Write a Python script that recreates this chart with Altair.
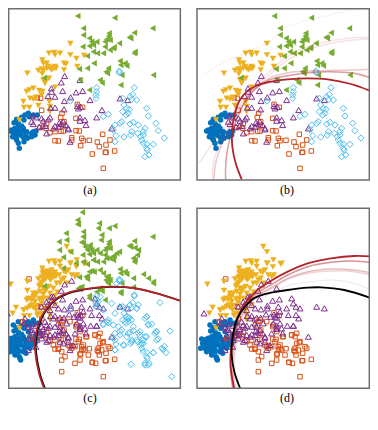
import altair as alt
import pandas as pd

blue_x = [85,75,65,50,42,55,72,35,30,45,55,65,70,40,50,38,48,60,70,78,82,95,100,108,95,105,55,72,58,60,45,80,55,65,112,100,88,50]
blue_y = [340,345,352,358,368,370,360,390,393,385,380,378,385,398,405,410,415,405,412,405,415,400,395,393,410,405,430,425,445,400,395,395,392,395,345,345,350,420]
orange_x = [125,112,122,186,182,228,248,232,140,120,138,165,175,192,190,150,165,183,190,228,238,215,215,245,250,268,242,292,298,318,330,308,277,316,318,344,310]
orange_y = [331,293,295,340,352,355,322,313,370,383,385,422,423,365,375,398,395,394,393,392,393,413,420,415,422,421,437,426,440,435,420,403,462,457,457,453,505]
gold_x = [211,147,162,165,180,211,229,252,127,130,140,125,115,145,150,165,168,192,198,192,232,82,127,130,147,135,135,100,88,80,118,127,125,90,100,108,70,72,88,148,150,150,58,115,165,162,155,140,130]
gold_y = [131,160,158,165,160,165,176,167,180,190,190,207,212,200,205,200,205,190,192,210,200,220,222,240,235,245,250,265,270,275,272,275,285,295,298,292,305,323,323,305,320,335,360,317,262,205,210,205,212]
purple_x = [194,184,154,155,144,188,165,228,248,212,270,193,240,242,232,235,152,165,192,306,360,383,98,108,95,100,125,130,150,145,128,118,136,140,160,165,178,183,190,198,205,205,240,240,255,258,290,335,210,175]
purple_y = [228,247,265,275,288,273,290,277,273,292,300,303,240,320,318,325,323,323,328,330,295,300,347,352,365,372,355,362,352,358,378,380,378,400,385,378,368,372,365,375,385,388,352,362,360,375,352,385,425,380]
green_x = [247,233,344,458,403,327,250,250,326,388,392,268,275,290,320,330,315,280,268,248,315,358,342,340,330,405,403,280,292,262,310,360,375,380,362,282,262,238,325,318,322,365,460,300,306,133,240,362,268]
green_y = [12,48,53,85,98,100,85,105,108,112,115,115,125,125,118,120,125,135,138,140,140,130,142,145,150,155,160,155,160,168,160,183,190,197,195,190,205,207,205,215,220,225,225,240,248,233,240,255,270]
sky_x = [358,358,290,290,288,288,211,403,398,390,395,410,368,372,380,388,385,378,368,440,445,325,310,468,475,493,360,345,340,365,390,400,415,435,430,422,425,430,440,460,440,435,447,442,372,395,392,348,345,413,430]
sky_y = [213,218,263,275,285,295,303,263,283,290,298,300,295,315,325,328,340,345,335,325,348,343,349,370,392,414,370,375,390,365,372,367,375,385,395,410,420,430,432,433,445,470,465,450,411,395,405,407,425,400,405]

# Further points of the larger set shown in (c) and (d), same units.
blue2_x = [15,20,25,20,12,35,40,30,45,60,62,55,70,78,85,90,60,28,18,100,118,85,90,108,120,40,55,75,45,50]
blue2_y = [392,410,420,395,420,415,425,430,435,450,455,425,430,435,410,420,410,405,405,335,345,370,385,380,375,350,340,355,440,395]
orange2_x = [87,68,175,190,210,230,240,260,285,300,285,295,258,235,250,225,255,265,245,240,300,310,325,295,305,295,225,240,185,195,160,175,185,205,210,185,277,287,90]
orange2_y = [212,340,335,335,340,350,370,385,380,375,380,385,385,400,410,415,425,440,425,437,405,400,415,420,425,430,465,455,455,445,410,420,430,410,415,490,462,465,390]
gold2_x = [32,48,38,72,82,85,200,212,205,178,180,155,150,140,118,125,110,105,120,95,82,108,130,160,180,200,152,215,230,255,225,135,122,112,172,140,155,165,135,145,150,155,140,148,160,165,130,135,128,120,100,95,105,125,140,150,170,185]
gold2_y = [228,298,315,305,247,272,115,165,185,200,175,185,195,208,235,225,255,280,250,290,300,305,258,240,225,225,215,200,155,165,205,300,315,322,252,270,275,290,190,195,190,200,200,210,205,192,205,215,195,230,255,275,265,270,240,255,225,215]
purple2_x = [22,75,72,85,108,85,215,160,125,140,175,180,208,212,245,250,240,222,200,275,298,272,290,240,225,205,220,190,180,150,140,135,120,105,110,160,175,150,290,298,310,250,230,285,125,145,165,180,90,85]
purple2_y = [315,330,345,390,415,425,217,265,295,280,300,328,318,300,295,310,328,325,345,320,320,352,352,360,375,400,410,405,400,380,350,340,370,385,395,330,345,305,285,295,300,345,345,270,390,395,355,355,365,355]
green2_x = [233,235,298,295,327,198,250,250,305,303,177,200,178,212,190,245,255,262,270,405,415,412,400,228,250,190,268,275,258,262,300,310,320,330,325,400,430,445,460,400,245,235,268,290,302,315,362,350,340,300,320,280]
green2_y = [35,47,45,60,60,75,70,85,80,95,100,95,125,130,147,102,115,125,110,118,125,140,150,165,160,180,190,188,205,212,185,195,205,215,225,210,198,210,220,237,235,240,262,250,245,275,250,135,155,135,150,155]
sky2_x = [480,510,515,393,435,445,490,498,485,460,470,455,445,465,470,335,345,325,310,310,320,340,355,380,385,395,375,400,385,380,360,345,345,370,395,410,420,425,440,435,440,420,360,350,300,295,290,403,360,380,410,415]
sky2_y = [283,368,505,468,465,470,423,433,420,433,370,347,350,375,395,285,315,335,305,347,340,350,355,325,330,335,340,355,375,385,380,395,425,410,400,395,380,405,385,330,325,370,215,225,265,280,295,260,295,300,300,290]

# Boundaries (b), (c), (d), same panel units.
b1_x = [135,117,107,106,112,127,147,177,217,273,333,393,463,540]
b1_y = [538,490,440,400,350,305,278,258,246,238,235,238,252,280]
b2_x = [87,87,94,112,142,172,217,273,333,403,473,540]
b2_y = [538,500,440,380,310,270,240,227,218,215,220,240]
b3_x = [52,57,77,107,142,177,217,273,333,403,473,540]
b3_y = [538,490,430,370,310,265,235,218,213,211,210,207]
b4_x = [7,37,77,107,147,177,217,273,333,403,473,540]
b4_y = [490,445,390,345,290,260,225,180,150,130,120,115]
b5_x = [47,52,77,107,147,177,217,273,333,403,473,540]
b5_y = [538,480,420,360,295,258,215,170,140,122,113,112]
b6_x = [25,77,217,273,400,540]
b6_y = [220,190,125,80,45,12]

c1_x = [135,120,108,108,121,143,172,216,270,330,400,470,540]
c1_y = [539,495,425,395,340,300,272,252,241,236,239,255,277]
c2_x = [132,117,105,105,118,140,170,215,270,330,400,470,540]
c2_y = [539,495,425,395,340,300,270,250,240,235,239,255,277]

d1_x = [130,113,105,108,122,145,172,202,242,273,333,373,443,540]
d1_y = [539,490,440,385,330,295,270,258,250,245,238,237,245,275]
d2_x = [112,102,102,117,142,177,217,273,333,403,473,540]
d2_y = [539,475,435,345,290,250,221,190,165,150,143,145]
d3_x = [108,101,104,120,145,180,220,273,333,403,473,540]
d3_y = [539,475,435,345,293,255,231,200,175,162,158,165]
d4_x = [112,106,109,125,148,183,223,273,333,403,473,540]
d4_y = [539,480,435,345,297,260,238,210,190,182,185,198]
d5_x = [116,110,113,128,151,185,225,273,333,403,473,540]
d5_y = [539,480,435,345,299,263,241,213,195,188,190,205]
d6_x = [122,114,117,133,158,195,235,273,333,403,473,540]
d6_y = [539,480,435,350,305,271,249,232,222,215,225,255]

# panel origins and captions, 1/3 px of the page
panel_x = [2, 592, 2, 592]
panel_y = [0, 0, 625, 625]
captions = ["(a)", "(b)", "(c)", "(d)"]
caption_x = [270, 861, 270, 861]
caption_y = [571, 571, 1193, 1193]
frame_x = [26, 591, 26, 591]
frame_x2 = [541, 1108, 541, 1108]
frame_y = [26, 26, 625, 625]
frame_y2 = [540, 540, 1165, 1165]

X = alt.Scale(domain=[0, 1110])
Y = alt.Scale(domain=[1266, 0])
DARK = "#b2242c"

def pts(xs, ys, dx, dy, shape, color, filled, size):
    df = pd.DataFrame({"x": [v + dx - 2 for v in xs], "y": [v + dy for v in ys]})
    return alt.Chart(df).mark_point(shape=shape, filled=filled, size=size, color=color,
                                    opacity=1, strokeWidth=1).encode(
        x=alt.X("x:Q", scale=X, axis=None), y=alt.Y("y:Q", scale=Y, axis=None))

def curve(xs, ys, dx, dy, color, opacity, width):
    df = pd.DataFrame({"x": [v + dx - 2 for v in xs], "y": [v + dy for v in ys], "o": list(range(len(xs)))})
    return alt.Chart(df).mark_line(color=color, opacity=opacity, strokeWidth=width,
                                   interpolate="catmull-rom").encode(
        x=alt.X("x:Q", scale=X, axis=None), y=alt.Y("y:Q", scale=Y, axis=None), order="o:Q")

def scatter(big, six, dx, dy):
    def j(a, b):
        return a + b if big else a
    L = [pts(j(blue_x, blue2_x), j(blue_y, blue2_y), dx, dy, "circle", "#0072BD", True, 30),
         pts(j(orange_x, orange2_x), j(orange_y, orange2_y), dx, dy, "square", "#D95319", False, 20),
         pts(j(gold_x, gold2_x), j(gold_y, gold2_y), dx, dy, "triangle-down", "#EDB120", True, 42),
         pts(j(purple_x, purple2_x), j(purple_y, purple2_y), dx, dy, "triangle-up", "#7E2F8E", False, 36)]
    if six:
        L += [pts(j(green_x, green2_x), j(green_y, green2_y), dx, dy, "triangle-left", "#77AC30", True, 42),
              pts(j(sky_x, sky2_x), j(sky_y, sky2_y), dx, dy, "diamond", "#4DBEEE", False, 40)]
    return L

ax, ay = panel_x[0], panel_y[0]
bx, by = panel_x[1], panel_y[1]
cx, cy = panel_x[2], panel_y[2]
dx, dy = panel_x[3], panel_y[3]

layers = []
layers += scatter(False, True, ax, ay)
layers += scatter(False, True, bx, by)
layers += [curve(b6_x, b6_y, bx, by, DARK, 0.05, 1.5), curve(b4_x, b4_y, bx, by, DARK, 0.12, 1.5),
           curve(b5_x, b5_y, bx, by, DARK, 0.12, 1.5), curve(b3_x, b3_y, bx, by, DARK, 0.25, 1.5),
           curve(b2_x, b2_y, bx, by, DARK, 0.45, 1.5), curve(b1_x, b1_y, bx, by, DARK, 1, 1.8)]
layers += scatter(True, True, cx, cy)
layers += [curve(c1_x, c1_y, cx, cy, "#000000", 1, 1.5), curve(c2_x, c2_y, cx, cy, DARK, 1, 1.8)]
layers += scatter(True, False, dx, dy)
layers += [curve(d6_x, d6_y, dx, dy, DARK, 0.08, 1.5), curve(d5_x, d5_y, dx, dy, DARK, 0.2, 1.5),
           curve(d4_x, d4_y, dx, dy, DARK, 0.3, 1.5), curve(d3_x, d3_y, dx, dy, DARK, 0.5, 1.5),
           curve(d2_x, d2_y, dx, dy, DARK, 1, 1.8), curve(d1_x, d1_y, dx, dy, "#000000", 1, 1.8)]

frames = pd.DataFrame({"x": frame_x, "x2": frame_x2, "y": frame_y, "y2": frame_y2})
layers.append(alt.Chart(frames).mark_rect(fill="transparent", stroke="#6e6e6e", strokeWidth=1.5).encode(
    x=alt.X("x:Q", scale=X, axis=None), x2="x2:Q", y=alt.Y("y:Q", scale=Y, axis=None), y2="y2:Q"))

caps = pd.DataFrame({"x": caption_x, "y": caption_y, "t": captions})
layers.append(alt.Chart(caps).mark_text(font="Liberation Serif", fontSize=12, color="#000000", baseline="middle").encode(
    x=alt.X("x:Q", scale=X, axis=None), y=alt.Y("y:Q", scale=Y, axis=None), text="t:N"))

chart = alt.layer(*layers).properties(
    width=370, height=422, background="white",
    autosize=alt.AutoSizeParams(type="none"),
    padding={"left": -8, "top": -8, "right": 0, "bottom": 0}
).configure_view(stroke=None)

chart.save("out.html", embed_options={"renderer": "svg", "actions": False})
